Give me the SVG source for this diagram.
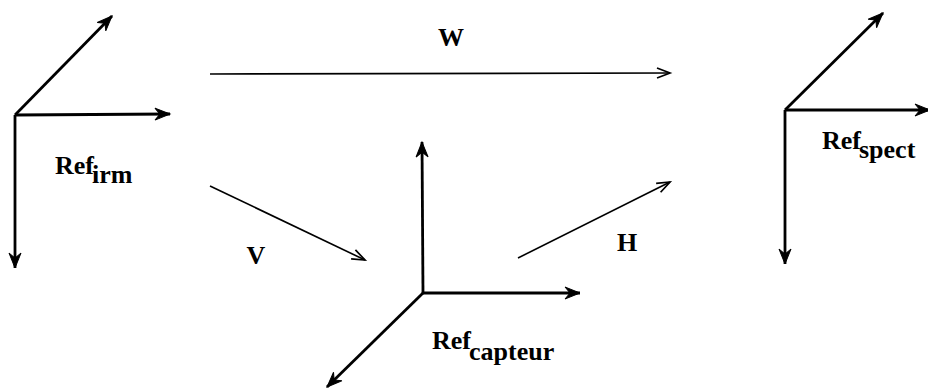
<svg xmlns="http://www.w3.org/2000/svg" width="928" height="389" viewBox="0 0 928 389">
<style>
.axis{stroke:#000;stroke-width:2.8;fill:none;marker-end:url(#ah)}
.conn{stroke:#000;stroke-width:1.6;fill:none;marker-end:url(#ch)}
text{font-family:"Liberation Serif","Times New Roman",serif;font-weight:bold;font-size:26px;fill:#000}
</style>
<defs>
<marker id="ah" markerUnits="userSpaceOnUse" markerWidth="20" markerHeight="16" viewBox="-16 -8 20 16" refX="0" refY="0" orient="auto">
<path d="M0,0 L-15,-6 L-10,0 L-15,6 Z" fill="#000" stroke="#000" stroke-width="1" stroke-linejoin="miter"/>
</marker>
<marker id="ch" markerUnits="userSpaceOnUse" markerWidth="20" markerHeight="16" viewBox="-16 -8 20 16" refX="0" refY="0" orient="auto">
<path d="M-13,-5 L0,0 L-13,5" fill="none" stroke="#000" stroke-width="1.7"/>
</marker>
</defs>
<g id="ref-irm">
<line class="axis" x1="15" y1="115" x2="112" y2="16"/>
<line class="axis" x1="15" y1="115" x2="170" y2="114"/>
<line class="axis" x1="15" y1="115" x2="15" y2="268"/>
<text x="55" y="174">Ref<tspan dx="-2" dy="9">irm</tspan></text>
</g>
<g id="ref-capteur">
<line class="axis" x1="423" y1="293" x2="422" y2="142"/>
<line class="axis" x1="423" y1="293" x2="580" y2="293"/>
<line class="axis" x1="423" y1="293" x2="327" y2="387"/>
<text x="432" y="349">Ref<tspan dx="-2" dy="11">capteur</tspan></text>
</g>
<g id="ref-spect">
<line class="axis" x1="785" y1="110" x2="883" y2="13"/>
<line class="axis" x1="785" y1="110" x2="930" y2="110"/>
<line class="axis" x1="785" y1="110" x2="785" y2="264"/>
<text x="822" y="149">Ref<tspan dx="-2" dy="9">spect</tspan></text>
</g>
<g id="connectors">
<line class="conn" x1="210" y1="74" x2="670" y2="73"/>
<text x="451" y="46" text-anchor="middle">W</text>
<line class="conn" x1="210" y1="186" x2="365" y2="260"/>
<text x="256" y="264" text-anchor="middle">V</text>
<line class="conn" x1="518" y1="258" x2="670" y2="182"/>
<text x="627" y="251" text-anchor="middle">H</text>
</g>
</svg>
